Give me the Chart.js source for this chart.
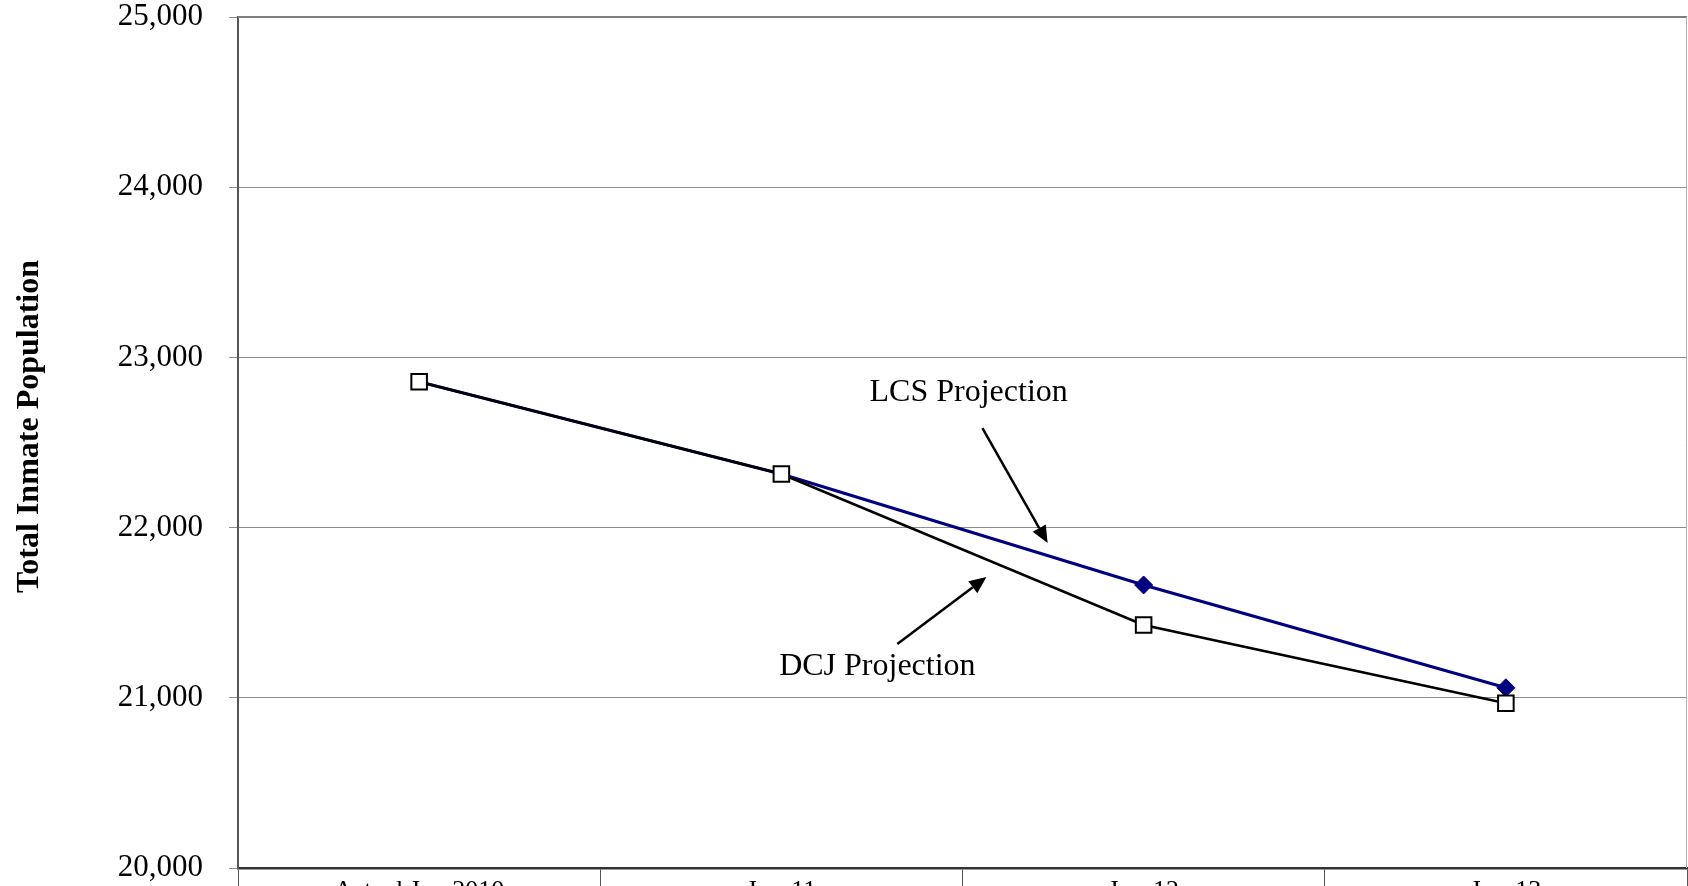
<!DOCTYPE html>
<html>
<head>
<meta charset="utf-8">
<script src="https://cdn.jsdelivr.net/npm/chart.js@4.4.0/dist/chart.umd.min.js"></script>
<style>
html,body{margin:0;padding:0;background:#fff;overflow:hidden;width:1688px;height:886px;}
#wrap{width:1688px;height:920px;}
</style>
</head>
<body>
<div id="wrap"><canvas id="c" width="1688" height="920"></canvas></div>
<script>
const categories = ["Actual Jun 2010", "Jun-11", "Jun-12", "Jun-13"];
const dcjProjection = [22857, 22315, 21428, 20968];
const lcsProjection = [22857, 22315, 21663, 21059];
const yTicks = [20000, 21000, 22000, 23000, 24000, 25000];

// annotation anchors in data space: [categoryIndex, value]
const lcsLabel = {text: "LCS Projection", at: [1.517, 22791]};
const lcsArrow = {from: [1.555, 22585], to: [1.735, 21910]};
const dcjLabel = {text: "DCJ Projection", at: [1.265, 21181]};
const dcjArrow = {from: [1.320, 21316], to: [1.566, 21710]};

const SERIF = "'Liberation Serif', 'Times New Roman', serif";

const annotationPlugin = {
  id: 'annots',
  afterDatasetsDraw(chart) {
    const ctx = chart.ctx, xs = chart.scales.x, ys = chart.scales.y;
    const px = p => [xs.getPixelForValue(p[0]), ys.getPixelForValue(p[1])];
    ctx.save();
    ctx.fillStyle = '#000';
    ctx.font = "32px " + SERIF;
    ctx.textAlign = 'center';
    ctx.textBaseline = 'middle';
    [lcsLabel, dcjLabel].forEach(l => {
      const [x, y] = px(l.at);
      ctx.fillText(l.text, x, y);
    });
    [lcsArrow, dcjArrow].forEach(a => {
      const [x1, y1] = px(a.from), [x2, y2] = px(a.to);
      const ang = Math.atan2(y2 - y1, x2 - x1);
      const hl = 17, hw = 7.5;
      const bx = x2 - hl * Math.cos(ang), by = y2 - hl * Math.sin(ang);
      ctx.strokeStyle = '#000';
      ctx.lineWidth = 2.5;
      ctx.beginPath();
      ctx.moveTo(x1, y1);
      ctx.lineTo(bx, by);
      ctx.stroke();
      ctx.beginPath();
      ctx.moveTo(x2, y2);
      ctx.lineTo(bx + hw * Math.sin(ang), by - hw * Math.cos(ang));
      ctx.lineTo(bx - hw * Math.sin(ang), by + hw * Math.cos(ang));
      ctx.closePath();
      ctx.fill();
    });
    ctx.restore();
  },
  beforeDatasetsDraw(chart) {
    const ctx = chart.ctx, a = chart.chartArea;
    ctx.save();
    ctx.strokeStyle = '#7f7f7f';
    ctx.lineWidth = 2;
    ctx.beginPath();
    ctx.moveTo(a.left, a.top);
    ctx.lineTo(a.right, a.top);
    ctx.stroke();
    ctx.strokeStyle = '#b0b0b0';
    ctx.lineWidth = 1;
    ctx.beginPath();
    ctx.moveTo(a.right - 0.5, a.top);
    ctx.lineTo(a.right - 0.5, a.bottom);
    ctx.stroke();
    ctx.restore();
  }
};

new Chart(document.getElementById('c'), {
  type: 'line',
  data: {
    labels: categories,
    datasets: [
      {
        label: 'DCJ Projection',
        data: dcjProjection,
        borderColor: '#000000',
        borderWidth: 2.5,
        pointStyle: 'rect',
        pointRadius: 11,
        pointBackgroundColor: '#ffffff',
        pointBorderColor: '#000000',
        pointBorderWidth: 2,
        tension: 0
      },
      {
        label: 'LCS Projection',
        data: lcsProjection,
        borderColor: '#000080',
        borderWidth: 3,
        pointStyle: 'rectRot',
        pointRadius: [0, 0, 9, 9],
        pointBackgroundColor: '#000080',
        pointBorderColor: '#000080',
        pointBorderWidth: 1,
        tension: 0
      }
    ]
  },
  options: {
    responsive: false,
    animation: false,
    devicePixelRatio: 1,
    events: [],
    layout: {autoPadding: false, padding: {top: 17, right: 1, left: 0, bottom: 0}},
    plugins: {legend: {display: false}, tooltip: {enabled: false}},
    scales: {
      x: {
        type: 'category',
        offset: true,
        afterFit(s) { s.height = 52; s.paddingLeft = 0; s.paddingRight = 0; },
        grid: {
          offset: true,
          drawOnChartArea: false,
          drawTicks: true,
          tickLength: 20,
          color: '#555555',
          lineWidth: 1
        },
        border: {display: true, color: '#333333', width: 2.5},
        ticks: {
          font: {family: SERIF, size: 26},
          color: '#000',
          padding: -12,
          maxRotation: 0,
          autoSkip: false
        }
      },
      y: {
        min: 20000,
        max: 25000,
        afterFit(s) { s.width = 238; s.paddingTop = 0; s.paddingBottom = 0; },
        afterBuildTicks(s) { s.ticks = yTicks.map(v => ({value: v})); },
        grid: {
          color: '#8c8c8c',
          lineWidth: 1,
          tickLength: 9,
          drawTicks: true
        },
        border: {display: true, color: '#555555', width: 2},
        ticks: {
          font: {family: SERIF, size: 31, lineHeight: 1},
          color: '#000',
          padding: 26,
          callback: v => Number(v).toLocaleString('en-US')
        },
        title: {
          display: true,
          text: '\u00a0\u00a0\u00a0\u00a0Total Inmate Population',
          font: {family: SERIF, size: 32, weight: 'bold', lineHeight: 1.2},
          color: '#000',
          padding: {top: 11, bottom: 0}
        }
      }
    }
  },
  plugins: [annotationPlugin]
});
</script>
</body>
</html>
